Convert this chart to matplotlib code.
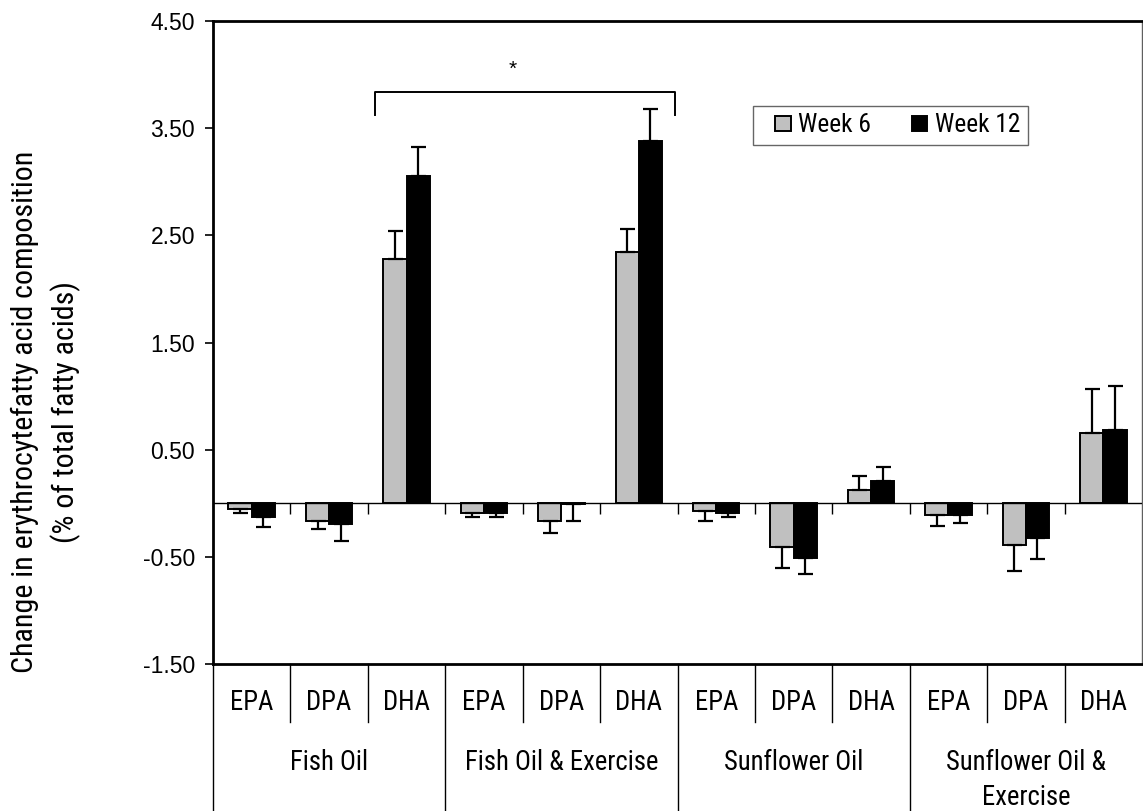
import os
import numpy as np
from matplotlib import pyplot as plt
from matplotlib import font_manager
from matplotlib.patches import Patch, Rectangle
from matplotlib.legend_handler import HandlerPatch
from matplotlib.lines import TICKDOWN

# fatty acids measured within each supplementation group
acids = ['EPA', 'DPA', 'DHA']
groups = ['Fish Oil', 'Fish Oil & Exercise', 'Sunflower Oil', 'Sunflower Oil &\nExercise']
series_names = ['Week 6', 'Week 12']
y_label = 'Change in erythrocytefatty acid composition\n(% of total fatty acids)'

# change from baseline (% of total fatty acids), 12 bars per series
week6 = [-0.05, -0.17, 2.28, -0.09, -0.17, 2.34, -0.07, -0.41, 0.12, -0.11, -0.39, 0.66]
week6_err = [0.04, 0.07, 0.26, 0.04, 0.11, 0.22, 0.10, 0.19, 0.13, 0.10, 0.24, 0.41]
week12 = [-0.13, -0.19, 3.05, -0.09, -0.01, 3.38, -0.095, -0.51, 0.21, -0.11, -0.32, 0.68]
week12_err = [0.09, 0.16, 0.27, 0.04, 0.16, 0.30, 0.03, 0.15, 0.13, 0.07, 0.20, 0.41]

y_ticks = [-1.5, -0.5, 0.5, 1.5, 2.5, 3.5, 4.5]
sig_pair = (2, 5)   # DHA Fish Oil vs DHA Fish Oil & Exercise


def narrow_font():
    # look for an upright regular-weight condensed face among installed fonts
    prefs = ['LiberationSansNarrow-Regular', 'NotoSans-Condensed.', 'RobotoCondensed-Regular',
             'Roboto_Condensed-Regular', 'OpenSans_Condensed-Regular',
             'OpenSansCondensed-Regular', 'DejaVuSansCondensed.']
    files = [f.fname for f in font_manager.fontManager.ttflist]
    for p in prefs:
        for fn in files:
            if os.path.basename(fn).startswith(p):
                return font_manager.FontProperties(fname=fn)
    return font_manager.FontProperties(family='DejaVu Sans', stretch='condensed')


NARROW = narrow_font()
plt.rcParams['font.family'] = ['Liberation Sans', 'DejaVu Sans']

fig = plt.figure(figsize=(11.43, 8.11), dpi=100)
renderer = fig.canvas.get_renderer()


def narrow(size):
    fp = NARROW.copy()
    fp.set_size(size)
    return fp


def fit_size(text, target_px, base=20.0):
    # font size at which the text spans target_px
    t = fig.text(0, 0, text, fontproperties=narrow(base))
    w = t.get_window_extent(renderer=renderer).width
    t.remove()
    return base * target_px / w


# horizontal labels: balance width against glyph height
label_size = float(np.sqrt(fit_size(groups[1], 190) * 19.5))
legend_size = float(np.sqrt(fit_size(series_names[1], 80) * 19.5))
ylabel_size = fit_size(y_label.split('\n')[0], 522)


def one_sided(values, errors):
    # error bars only point away from zero
    v = np.asarray(values)
    e = np.asarray(errors)
    lower = np.where(v < 0, e, 0.0)
    upper = np.where(v >= 0, e, 0.0)
    return np.vstack([lower, upper])


class SquareHandler(HandlerPatch):
    # small square key sitting at the right end of the handle box
    def create_artists(self, legend, orig_handle, xdescent, ydescent, width, height,
                       fontsize, trans):
        side = 0.62 * fontsize
        sq = Rectangle((width - xdescent - side, -ydescent + (height - side) / 2), side, side,
                       facecolor=orig_handle.get_facecolor(),
                       edgecolor=orig_handle.get_edgecolor(),
                       linewidth=orig_handle.get_linewidth(), transform=trans)
        return [sq]


ax = fig.add_axes([213 / 1143, 1 - 664 / 811, 929 / 1143, 643 / 811])

n = len(week6)
x = np.arange(n)
width = 0.30
err_kw = dict(ecolor='black', elinewidth=1.6, capsize=5.4, capthick=1.6)
ax.bar(x - width / 2, week6, width, color='#c0c0c0', edgecolor='black', linewidth=1.4,
       yerr=one_sided(week6, week6_err), error_kw=err_kw, zorder=3)
ax.bar(x + width / 2, week12, width, color='black', edgecolor='black', linewidth=1.4,
       yerr=one_sided(week12, week12_err), error_kw=err_kw, zorder=3)

ax.set_xlim(-0.5, n - 0.5)
ax.set_ylim(-1.5, 4.5)
ax.set_yticks(y_ticks)
ax.set_yticklabels(['%.2f' % t for t in y_ticks])
ax.tick_params(axis='y', direction='out', length=6, width=1.2, pad=7, labelsize=16.5)
ax.set_xticks([])

for side in ['left', 'top', 'bottom']:
    ax.spines[side].set_linewidth(2)
    ax.spines[side].set_color('black')
ax.spines['right'].set_linewidth(1)
ax.spines['right'].set_color('#606060')

# zero line with category separators hanging below it
bounds = np.arange(n + 1) - 0.5
ax.axhline(0, color='black', lw=1, zorder=4)
ax.plot(bounds[1:-1], np.zeros(n - 1), ls='none', marker=TICKDOWN, ms=8, mew=1,
        color='black', zorder=4)

# two-level category table under the plot
trans = ax.get_xaxis_transform()
row1 = -(722 - 664) / 643
fig_bottom = -(811 - 664) / 643
for i, b in enumerate(bounds[:-1]):
    bottom = fig_bottom if i % len(acids) == 0 else row1
    ax.plot([b, b], [0, bottom], transform=trans, color='black', lw=1, clip_on=False)
for i in range(n):
    ax.text(i, -(703 - 664) / 643, acids[i % len(acids)], transform=trans,
            ha='center', va='center', fontproperties=narrow(label_size))
for g, name in enumerate(groups):
    center = g * len(acids) + (len(acids) - 1) / 2
    ax.text(center, -(749 - 664) / 643, name, transform=trans, ha='center', va='top',
            fontproperties=narrow(label_size), linespacing=1.36)

# significance bracket between the DHA bars
left, right = sig_pair[0] - 0.41, sig_pair[1] + 0.47
ax.plot([left, left, right, right], [3.62, 3.84, 3.84, 3.62], color='black', lw=1.4, zorder=4)
ax.text((left + right) / 2 - 0.16, 4.05, '*', ha='center', va='center', fontsize=15)

handles = [Patch(facecolor='#c0c0c0', edgecolor='black', linewidth=1.4),
           Patch(facecolor='black', edgecolor='black', linewidth=1.4)]
leg = ax.legend(handles, series_names, loc='upper left', bbox_to_anchor=(0.581, 0.868),
                ncol=2, frameon=True, fancybox=False, shadow=False, borderpad=0.3,
                handlelength=1.2, handleheight=0.7, handletextpad=0.3, columnspacing=1.0,
                prop=narrow(legend_size), borderaxespad=0,
                handler_map={Patch: SquareHandler()})
leg.get_frame().set_edgecolor('#404040')
leg.get_frame().set_linewidth(1)

fig.text(46 / 1143, 1 - 412 / 811, y_label, rotation=90, ha='center', va='center',
         fontproperties=narrow(ylabel_size), linespacing=1.45)

fig.savefig('out.png', dpi=100)
